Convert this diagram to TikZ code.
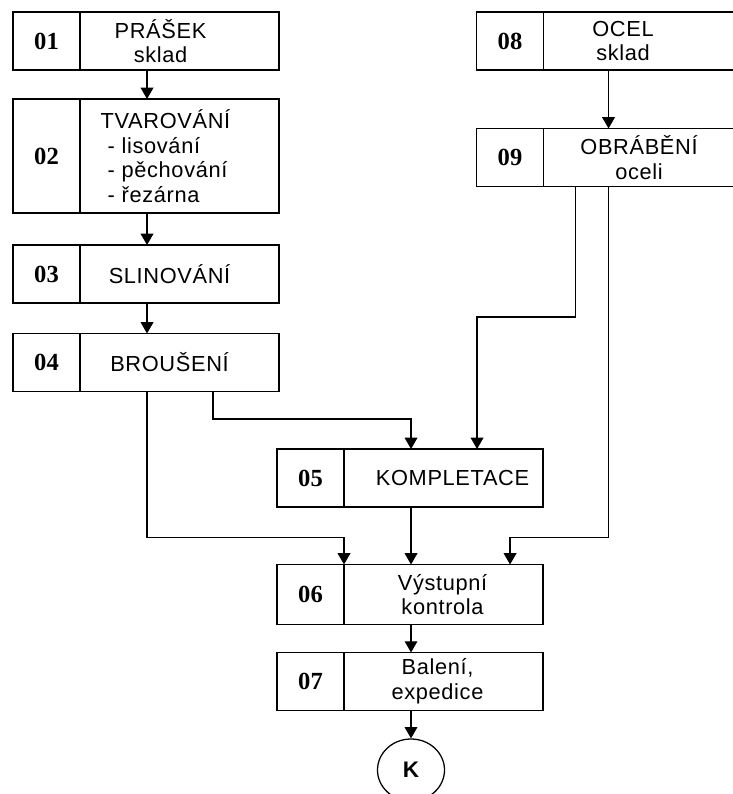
\documentclass[tikz,border=0pt]{standalone}
\usepackage{fontspec}
\setmainfont[LetterSpace=3]{Liberation Sans}
\newfontfamily\numfont{Liberation Serif}
\usetikzlibrary{positioning,arrows.meta,shapes.geometric}

\begin{document}
\begin{tikzpicture}[x=0.025cm, y=-0.025cm, font=\fontsize{15.5}{17.5}\selectfont, line width=0.9pt]
            \tikzstyle{numcell} = [draw, rectangle, outer sep=0pt, minimum width=1.675cm, minimum height=1.45cm, font=\fontsize{17.5}{19}\selectfont\numfont\bfseries]
            \tikzstyle{txtcell} = [draw, rectangle, outer sep=0pt, minimum width=4.975cm, minimum height=1.45cm]
            \tikzstyle{txt} = [inner sep=0pt, align=center]
            \tikzstyle{flow} = [-{Triangle[width=9pt,length=8pt]}]

            \useasboundingbox (0,0) rectangle (732,794);

            % levy sloupec
            \node[numcell] (n01) at (46.5,41) {01};
            \node[txtcell, right=0pt of n01] (t01) {};
            \node[txt] (l01) at ([xshift=-0.475cm]t01.center) {PRÁŠEK\\sklad};

            \node[numcell, minimum height=2.85cm] (n02) at (46.5,156) {02};
            \node[txtcell, minimum height=2.85cm, right=0pt of n02] (t02) {};
            \node[txt, align=left, anchor=west] (l02) at ([xshift=0.5cm]t02.west) {TVAROVÁNÍ\\\hspace*{5pt}- lisování\\\hspace*{5pt}- pěchování\\\hspace*{5pt}- řezárna};

            \node[numcell] (n03) at (46.5,274) {03};
            \node[txtcell, right=0pt of n03] (t03) {};
            \node[txt] (l03) at ([xshift=-0.25cm]t03.center) {SLINOVÁNÍ};

            \node[numcell] (n04) at (46.5,362.5) {04};
            \node[txtcell, right=0pt of n04] (t04) {};
            \node[txt] (l04) at ([xshift=-0.25cm]t04.center) {BROUŠENÍ};

            % pravy sloupec
            \node[numcell] (n08) at (510,41) {08};
            \node[txtcell, right=0pt of n08] (t08) {};
            \node[txt] (l08) at ([xshift=-0.5cm]t08.center) {OCEL\\sklad};

            \node[numcell] (n09) at (510,157.5) {09};
            \node[txtcell, right=0pt of n09] (t09) {};
            \node[txt] (l09) at ([xshift=-0.1cm]t09.center) {OBRÁBĚNÍ\\oceli};

            % stred
            \node[numcell] (n05) at (310.5,478) {05};
            \node[txtcell, right=0pt of n05] (t05) {};
            \node[txt] (l05) at ([xshift=0.225cm]t05.center) {KOMPLETACE};

            \node[numcell, minimum height=1.5cm] (n06) at (310.5,594.5) {06};
            \node[txtcell, minimum height=1.5cm, right=0pt of n06] (t06) {};
            \node[txt] (l06) at ([xshift=-0.025cm]t06.center) {Výstupní\\kontrola};

            \node[numcell] (n07) at (310.5,681.5) {07};
            \node[txtcell, right=0pt of n07] (t07) {};
            \node[txt] (l07) at ([xshift=-0.15cm]t07.center) {Balení,\\expedice};

            \node[draw, ellipse, minimum width=1.675cm, minimum height=1.55cm, inner sep=0pt, font=\fontsize{16}{18}\selectfont\bfseries] (k) at (411,770) {K};

            % spoje
            \draw[flow] ([xshift=1.675cm]t01.south west) -- ([xshift=1.675cm]t02.north west);
            \draw[flow] ([xshift=1.675cm]t02.south west) -- ([xshift=1.675cm]t03.north west);
            \draw[flow] ([xshift=1.675cm]t03.south west) -- ([xshift=1.675cm]t04.north west);
            \draw[flow] ([xshift=1.625cm]t08.south west) -- ([xshift=1.625cm]t09.north west);
            \draw[flow] ([xshift=3.325cm]t04.south west) |- ([xshift=1.675cm,yshift=0.75cm]t05.north west) -- ([xshift=1.675cm]t05.north west);
            \draw[flow] ([xshift=0.8cm]t09.south west) |- ([xshift=3.325cm,yshift=3.3cm]t05.north west) -- ([xshift=3.325cm]t05.north west);
            \draw[flow] ([xshift=1.675cm]t04.south west) |- ([yshift=0.675cm]t06.north west) -- (t06.north west);
            \draw[flow] ([xshift=1.675cm]t05.south west) -- ([xshift=1.675cm]t06.north west);
            \draw[flow] ([xshift=1.625cm]t09.south west) |- ([xshift=4.15cm,yshift=0.675cm]t06.north west) -- ([xshift=4.15cm]t06.north west);
            \draw[flow] ([xshift=1.675cm]t06.south west) -- ([xshift=1.675cm]t07.north west);
            \draw[flow] (k.north |- t07.south) -- (k.north);
        \end{tikzpicture}
\end{document}
